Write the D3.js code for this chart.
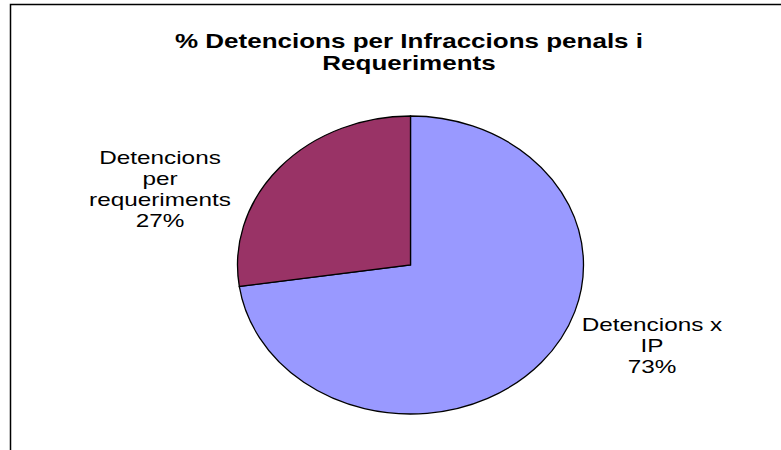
<!DOCTYPE html>
<html>
<head>
<meta charset="utf-8">
<script src="https://cdn.jsdelivr.net/npm/d3@7"></script>
<style>
  body { margin: 0; background: #fff; }
  text { font-family: "Liberation Sans", Arial, sans-serif; fill: #000; }
</style>
</head>
<body>
<div id="chart"></div>
<script>
const categories = ['Detencions x IP', 'Detencions per requeriments'];
const values = [72.7, 27.3];
const colors = ['#9999ff', '#993366'];
const labelLines = [['Detencions x', 'IP'], ['Detencions', 'per', 'requeriments']];
const titleLines = ['% Detencions per Infraccions penals i', 'Requeriments'];

const width = 781, height = 450;
const cx = 410.5, cy = 265, rx = 173, ry = 149;
const stretch = 1.28; // the picture is widened horizontally

const svg = d3.select('#chart')
  .append('svg')
  .attr('width', width)
  .attr('height', height);

// frame (only top and left edges are visible)
svg.append('path')
  .attr('d', `M10.5,${height} V4.5 H${width}`)
  .attr('fill', 'none')
  .attr('stroke', '#000')
  .attr('stroke-width', 1.5);

// title
const title = svg.append('g')
  .attr('transform', `translate(409,0) scale(1.3,1)`);
title.selectAll('text')
  .data(titleLines)
  .enter().append('text')
  .attr('x', 0)
  .attr('y', (d, i) => 48 + i * 22)
  .attr('text-anchor', 'middle')
  .attr('font-size', 20)
  .attr('font-weight', 'bold')
  .text(d => d);

// pie
const total = d3.sum(values);
const pie = d3.pie().sort(null).value(d => d)(values);
const arc = d3.arc().innerRadius(0).outerRadius(rx);

svg.append('g')
  .attr('transform', `translate(${cx},${cy}) scale(1,${ry / rx})`)
  .selectAll('path')
  .data(pie)
  .enter().append('path')
  .attr('d', arc)
  .attr('fill', (d, i) => colors[i])
  .attr('stroke', '#000')
  .attr('stroke-width', 1.3)
  .attr('vector-effect', 'non-scaling-stroke');

// data labels
const labelPos = [[652, 331], [160, 164]];
const fmt = d3.format('.0%');
labelLines.forEach((lines, i) => {
  const all = lines.concat([fmt(values[i] / total)]);
  const g = svg.append('g')
    .attr('transform', `translate(${labelPos[i][0]},${labelPos[i][1]}) scale(${stretch},1)`);
  g.selectAll('text')
    .data(all)
    .enter().append('text')
    .attr('x', 0)
    .attr('y', (d, j) => j * 21)
    .attr('text-anchor', 'middle')
    .attr('font-size', 19)
    .text(d => d);
});
</script>
</body>
</html>
